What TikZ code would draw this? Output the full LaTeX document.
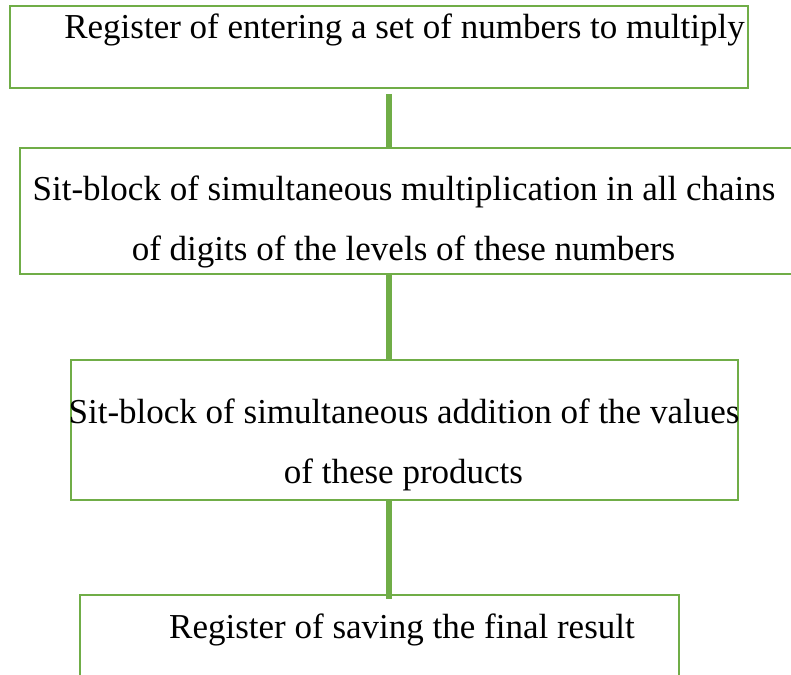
\documentclass[tikz,border=0pt]{standalone}
\usepackage{fontspec}
\setmainfont{Liberation Serif}
\usepackage{tikz}
\usetikzlibrary{calc}
\definecolor{regreen}{HTML}{70AD47}
\tikzset{
  blk/.style = {draw = regreen, line width = 2.5pt, rectangle, outer sep = 0pt, inner sep = 0pt},
  txt/.style = {anchor = base, inner sep = 0pt, font = \fontsize{35}{42}\selectfont},
  link/.style = {draw = regreen, line width = 6pt}
}

\begin{document}
\begin{tikzpicture}[x = 1pt, y = -1pt]
\useasboundingbox (0,0) rectangle (791,674);
\clip (0,0) rectangle (791,674);
\coordinate (spine) at (389,0);

\node[blk, minimum width = 738pt, minimum height = 82pt] (reg1) at (379,47) {};
\node[blk, minimum width = 800pt, minimum height = 126pt] (sit1) at (420,211) {};
\node[blk, minimum width = 667pt, minimum height = 140pt] (sit2) at (404.5,430) {};
\node[blk, minimum width = 599pt, minimum height = 125pt] (reg2) at (379.5,657.5) {};

\node[txt] (t1) at (404.5,39) {Register of entering a set of numbers to multiply};
\node[txt] (t2a) at (404,200) {Sit-block of simultaneous multiplication in all chains};
\node[txt] (t2b) at (403.5,260) {of digits of the levels of these numbers};
\node[txt] (t3a) at (404,423) {Sit-block of simultaneous addition of the values};
\node[txt] (t3b) at (403.5,483) {of these products};
\node[txt] (t4) at (402,638) {Register of saving the final result};

\draw[link, shorten <= 6pt] (reg1.south -| spine) -- (sit1.north -| spine);
\draw[link] (sit1.south -| spine) -- (sit2.north -| spine);
\draw[link, shorten >= -4pt] (sit2.south -| spine) -- (reg2.north -| spine);

\end{tikzpicture}
\end{document}
